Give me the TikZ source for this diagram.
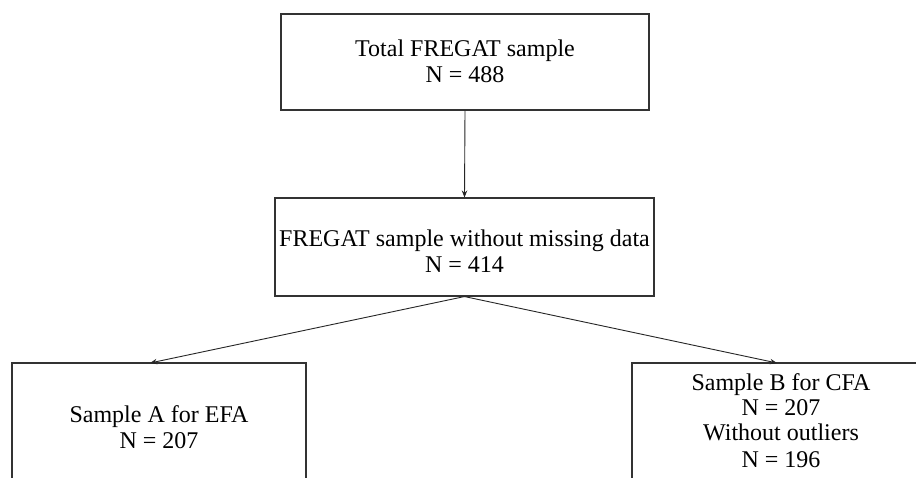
\documentclass[tikz,border=0pt]{standalone}
\usepackage{fontspec}
\setmainfont{Liberation Serif}
\usetikzlibrary{arrows.meta}
\begin{document}
\begin{tikzpicture}[x=1pt,y=1pt,
  box/.style={draw=black!80, line width=1.1pt, fill=white, inner sep=0pt},
  txt/.style={anchor=base, inner sep=0pt, font=\fontsize{24}{26}\selectfont},
  link/.style={draw=black!85, line width=0.9pt, -{Stealth[length=7pt,width=5.5pt]}}]
\useasboundingbox (0,0) rectangle (916,477);
\clip (0,0) rectangle (916,477);
\fill[white] (0,0) rectangle (916,477);

% flowchart boxes
\node[box, minimum width=368pt, minimum height=96pt] (total) at (465,415) {};
\node[box, minimum width=379pt, minimum height=98pt] (clean) at (464.5,230) {};
\node[box, minimum width=294pt, minimum height=129pt] (efa) at (159,49.5) {};
\node[box, minimum width=298pt, minimum height=129pt] (cfa) at (781,49.5) {};

% box texts, one node per line, placed on their baselines
\node[txt] (total-1) at (465,420) {Total FREGAT sample};
\node[txt] (total-2) at (465,394) {N = 488};
\node[txt] (clean-1) at (464.5,230) {FREGAT sample without missing data};
\node[txt] (clean-2) at (464.5,204) {N = 414};
\node[txt] (efa-1) at (159,55) {Sample A for EFA};
\node[txt] (efa-2) at (159,29) {N = 207};
\node[txt] (cfa-1) at (781,87) {Sample B for CFA};
\node[txt] (cfa-2) at (781,62) {N = 207};
\node[txt] (cfa-3) at (781,37) {Without outliers};
\node[txt] (cfa-4) at (781,10) {N = 196};

% arrow heads land on the top edges of the lower boxes
\coordinate (efaIn) at (150,114);
\coordinate (cfaIn) at (777,114);

\draw[link] (total.south) -- (clean.north);
\draw[link] (clean.south) -- (efaIn);
\draw[link] (clean.south) -- (cfaIn);
\end{tikzpicture}
\end{document}
